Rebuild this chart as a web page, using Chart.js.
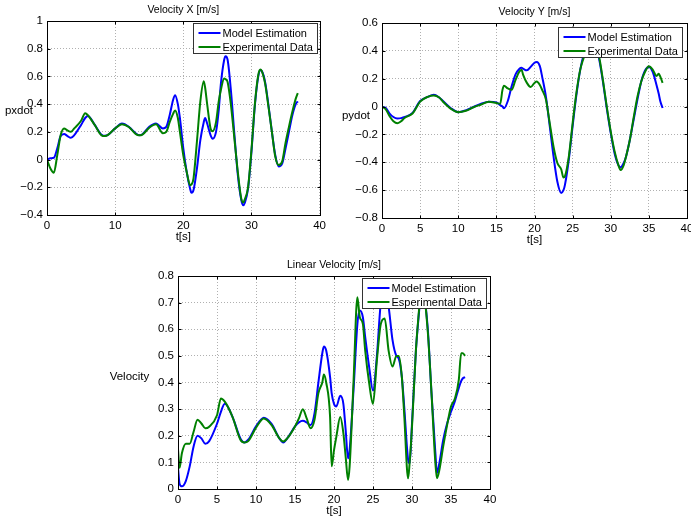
<!DOCTYPE html>
<html>
<head>
<meta charset="utf-8">
<title>Velocity plots</title>
<script src="https://cdn.jsdelivr.net/npm/chart.js@4.4.1/dist/chart.umd.min.js"></script>
<style>
  html, body { margin: 0; padding: 0; background: #fff; overflow: hidden; }
  body { width: 691px; height: 521px; position: relative; }
  canvas { position: absolute; }
</style>
</head>
<body>
<canvas id="vxchart" width="330" height="250" style="left:0px;top:0px"></canvas>
<canvas id="vychart" width="375" height="250" style="left:330px;top:0px"></canvas>
<canvas id="velchart" width="420" height="271" style="left:100px;top:250px"></canvas>
<script>
'use strict';

// ---- Velocity X ----
const vxTime = [
    0, 0.5, 1, 1.5, 2, 2.5, 3, 3.5, 4, 5,
    5.6, 6, 7, 8, 8.5, 9, 10, 11, 12, 13,
    13.5, 14, 15, 16, 17, 17.5, 18, 18.5, 18.8, 19.2,
    19.5, 20, 20.5, 21, 21.2, 21.5, 22, 22.5, 23, 23.2,
    23.5, 24, 24.3, 24.8, 25.2, 25.5, 26, 26.2, 26.5, 27,
    27.5, 28, 28.5, 28.8, 29, 29.5, 30, 30.5, 31, 31.3,
    31.5, 32, 32.5, 33, 33.5, 34, 34.5, 35, 35.5, 36,
    36.5, 36.8
];
const vxModel = [
    0, 0.01, 0.013, 0.08, 0.17, 0.185, 0.17, 0.157, 0.176, 0.25,
    0.30, 0.315, 0.25, 0.18, 0.172, 0.18, 0.225, 0.26, 0.237, 0.19,
    0.175, 0.183, 0.236, 0.26, 0.225, 0.236, 0.32, 0.43, 0.465, 0.40,
    0.30, 0.08, -0.09, -0.21, -0.24, -0.22, -0.065, 0.14, 0.27, 0.30,
    0.26, 0.176, 0.15, 0.2, 0.356, 0.54, 0.72, 0.745, 0.72, 0.49,
    0.18, -0.11, -0.29, -0.33, -0.315, -0.21, 0.056, 0.39, 0.60, 0.645,
    0.64, 0.56, 0.39, 0.2, 0.03, -0.05, -0.03, 0.08, 0.2, 0.32,
    0.40, 0.42
];
const vxExp = [
    0, -0.065, -0.095, 0.03, 0.176, 0.225, 0.21, 0.20, 0.225, 0.28,
    0.335, 0.32, 0.25, 0.175, 0.17, 0.18, 0.225, 0.255, 0.235, 0.185,
    0.175, 0.18, 0.23, 0.255, 0.19, 0.2, 0.27, 0.33, 0.355, 0.30,
    0.20, 0.03, -0.09, -0.185, -0.18, -0.135, 0.13, 0.42, 0.565, 0.52,
    0.40, 0.225, 0.205, 0.27, 0.42, 0.50, 0.585, 0.58, 0.56, 0.39,
    0.15, -0.09, -0.28, -0.31, -0.29, -0.2, 0.07, 0.40, 0.61, 0.65,
    0.64, 0.55, 0.38, 0.2, 0.02, -0.04, -0.015, 0.12, 0.236, 0.345,
    0.44, 0.48
];

// ---- Velocity Y ----
const vyTime = [
    0, 0.5, 1, 1.5, 2, 2.5, 3, 4, 5, 6,
    6.8, 7.5, 8, 9, 10, 11, 12, 13, 14, 15,
    15.5, 15.8, 16, 16.5, 17, 17.5, 18, 18.3, 18.5, 19,
    19.5, 20, 20.3, 20.7, 21, 21.5, 22, 22.5, 23, 23.5,
    23.8, 24, 24.5, 25, 25.5, 26, 26.5, 27, 27.5, 28,
    28.5, 29, 29.5, 30, 30.5, 31, 31.3, 31.7, 32, 32.5,
    33, 33.5, 34, 34.5, 35, 35.5, 36, 36.3, 36.5, 36.8
];
const vyModel = [
    0, -0.01, -0.05, -0.075, -0.085, -0.083, -0.075, -0.045, 0.04, 0.07,
    0.085, 0.065, 0.04, -0.01, -0.04, -0.027, -0.003, 0.02, 0.035, 0.03,
    0.01, 0.0, -0.012, 0.04, 0.145, 0.23, 0.27, 0.278, 0.272, 0.26,
    0.285, 0.315, 0.32, 0.29, 0.215, 0.07, -0.14, -0.36, -0.54, -0.62,
    -0.6, -0.56, -0.38, -0.14, 0.085, 0.265, 0.385, 0.47, 0.5, 0.46,
    0.335, 0.17, -0.02, -0.19, -0.335, -0.42, -0.435, -0.405, -0.36, -0.24,
    -0.095, 0.05, 0.18, 0.26, 0.285, 0.25, 0.155, 0.09, 0.038, -0.01
];
const vyExp = [
    0, -0.02, -0.07, -0.105, -0.12, -0.105, -0.08, -0.05, 0.035, 0.07,
    0.08, 0.065, 0.035, -0.015, -0.04, -0.03, -0.005, 0.015, 0.035, 0.025,
    0.02, 0.12, 0.15, 0.13, 0.12, 0.19, 0.25, 0.265, 0.23, 0.17,
    0.14, 0.17, 0.18, 0.155, 0.12, 0.05, -0.12, -0.29, -0.405, -0.45,
    -0.51, -0.50, -0.36, -0.12, 0.1, 0.265, 0.36, 0.46, 0.49, 0.45,
    0.35, 0.18, -0.01, -0.18, -0.32, -0.42, -0.455, -0.42, -0.36, -0.24,
    -0.08, 0.07, 0.18, 0.25, 0.29, 0.265, 0.22, 0.235, 0.215, 0.17
];

// ---- Linear velocity ----
const velTime = [
    0, 0.2, 0.5, 1, 1.5, 2, 2.5, 3, 3.5, 4,
    5, 5.5, 6, 7, 8, 8.5, 9, 10, 11, 12,
    13, 13.5, 14, 15, 15.5, 16, 16.5, 17, 17.5, 18,
    18.5, 18.7, 19, 19.5, 19.7, 20, 20.3, 20.8, 21.2, 21.5,
    21.8, 22, 22.5, 23, 23.3, 23.7, 24, 24.5, 25, 25.5,
    26, 26.5, 27, 27.5, 28, 28.3, 28.7, 29, 29.5, 29.7,
    30, 30.5, 31, 31.2, 32, 32.5, 33, 33.2, 33.5, 34,
    34.5, 35, 35.5, 36, 36.3, 36.5, 36.8
];
const velModel = [
    0.08, 0.02, 0.01, 0.03, 0.085, 0.16, 0.2, 0.19, 0.17, 0.18,
    0.245, 0.29, 0.32, 0.27, 0.19, 0.175, 0.185, 0.235, 0.268, 0.245,
    0.19, 0.175, 0.19, 0.235, 0.25, 0.256, 0.25, 0.24, 0.284, 0.40,
    0.51, 0.535, 0.52, 0.42, 0.36, 0.32, 0.31, 0.35, 0.32, 0.22,
    0.115, 0.146, 0.37, 0.62, 0.67, 0.645, 0.57, 0.46, 0.37, 0.5,
    0.70, 0.75, 0.685, 0.56, 0.5, 0.49, 0.42, 0.31, 0.11, 0.096,
    0.246, 0.52, 0.7, 0.78, 0.61, 0.36, 0.134, 0.06, 0.096, 0.184,
    0.246, 0.29, 0.33, 0.38, 0.405, 0.415, 0.42
];
const velExp = [
    0.15, 0.08, 0.134, 0.17, 0.17, 0.215, 0.26, 0.246, 0.228, 0.234,
    0.277, 0.34, 0.328, 0.27, 0.185, 0.175, 0.18, 0.23, 0.265, 0.24,
    0.19, 0.178, 0.19, 0.235, 0.265, 0.3, 0.265, 0.228, 0.26, 0.36,
    0.40, 0.43, 0.40, 0.27, 0.085, 0.146, 0.196, 0.27, 0.21, 0.12,
    0.034, 0.084, 0.40, 0.72, 0.646, 0.62, 0.52, 0.40, 0.32, 0.484,
    0.62, 0.64, 0.52, 0.46, 0.5, 0.5, 0.42, 0.28, 0.04, 0.1,
    0.234, 0.52, 0.71, 0.79, 0.6, 0.36, 0.096, 0.04, 0.07, 0.16,
    0.24, 0.31, 0.34, 0.41, 0.51, 0.51, 0.50
];

const FONT = '"Liberation Sans", Arial, Helvetica, sans-serif';
const BLUE = '#0000ff';
const GREEN = '#008000';

Chart.defaults.font.family = FONT;
Chart.defaults.color = '#000';

function fmtTick(v) {
    let s = String(Number(Number(v).toFixed(2)));
    return s.replace('-', '\u2212');
}

// matlab-ish decorations: box, inner ticks, titles, legend
const matlabDecor = {
    id: 'matlabDecor',
    afterDraw(chart, args, opts) {
        const ctx = chart.ctx;
        const a = chart.chartArea;
        const xs = chart.scales.x, ys = chart.scales.y;
        const L = Math.round(a.left) + 0.5, R = Math.round(a.right) + 0.5;
        const T = Math.round(a.top) + 0.5, B = Math.round(a.bottom) + 0.5;
        ctx.save();

        ctx.strokeStyle = '#000';
        ctx.lineWidth = 1;
        ctx.beginPath();
        xs.ticks.forEach(t => {
            const px = Math.round(xs.getPixelForValue(t.value)) + 0.5;
            ctx.moveTo(px, B); ctx.lineTo(px, B - 3);
            ctx.moveTo(px, T); ctx.lineTo(px, T + 3);
        });
        ys.ticks.forEach(t => {
            const py = Math.round(ys.getPixelForValue(t.value)) + 0.5;
            ctx.moveTo(L, py); ctx.lineTo(L + 3, py);
            ctx.moveTo(R, py); ctx.lineTo(R - 3, py);
        });
        ctx.stroke();
        ctx.strokeRect(L, T, R - L, B - T);

        // texts
        ctx.fillStyle = '#000';
        ctx.textAlign = 'center';
        ctx.textBaseline = 'middle';
        ctx.font = '10.5px ' + FONT;
        ctx.fillText(opts.title, (a.left + a.right) / 2, a.top - 11);
        ctx.font = '11.5px ' + FONT;
        ctx.fillText('t[s]', (a.left + a.right) / 2, a.bottom + 22);
        ctx.fillText(opts.yLabel, opts.yLabelX, opts.yLabelY);

        // legend
        ctx.font = '11px ' + FONT;
        const ds = chart.data.datasets;
        let tw = 0;
        ds.forEach(d => { tw = Math.max(tw, ctx.measureText(d.label).width); });
        const bw = Math.round(29 + tw + 5), bh = 30;
        const bx = Math.round(a.right - opts.legRight - bw) + 0.5;
        const by = Math.round(a.top + opts.legTop) + 0.5;
        ctx.fillStyle = '#fff';
        ctx.fillRect(bx, by, bw, bh);
        ctx.strokeStyle = '#333';
        ctx.strokeRect(bx, by, bw, bh);
        ctx.textAlign = 'left';
        ds.forEach((d, i) => {
            const yy = by + 9.5 + i * 14;
            ctx.strokeStyle = d.borderColor;
            ctx.lineWidth = 2;
            ctx.beginPath();
            ctx.moveTo(bx + 5, yy); ctx.lineTo(bx + 27, yy);
            ctx.stroke();
            ctx.fillStyle = '#000';
            ctx.fillText(d.label, bx + 29, yy + 0.5);
        });
        ctx.restore();
    }
};

function makePlot(elementID, p) {
    const toPts = (ts, vs) => ts.map((t, i) => ({x: t, y: vs[i]}));
    const config = {
        type: 'line',
        data: {
            datasets: [{
                label: 'Model Estimation',
                data: toPts(p.time, p.model),
                borderColor: BLUE,
                borderWidth: 2,
                pointRadius: 0,
                cubicInterpolationMode: 'monotone',
                order: 1
            }, {
                label: p.expLabel,
                data: toPts(p.time, p.exp),
                borderColor: GREEN,
                borderWidth: 2,
                pointRadius: 0,
                cubicInterpolationMode: 'monotone',
                order: 0
            }]
        },
        options: {
            responsive: false,
            animation: false,
            events: [],
            layout: { padding: { left: 0, right: p.padRight, top: p.padTop, bottom: 0 } },
            scales: {
                x: {
                    type: 'linear',
                    min: 0, max: 40,
                    afterFit: s => { s.height = p.xHeight; },
                    ticks: { stepSize: p.xStep, font: { size: 11.5 }, color: '#000', padding: 4, maxRotation: 0, autoSkip: false },
                    grid: { color: '#b0b0b0', drawTicks: false },
                    border: { display: true, color: '#000', dash: [1, 2] }
                },
                y: {
                    min: p.yMin, max: p.yMax,
                    afterFit: s => { s.width = p.yWidth; },
                    ticks: { stepSize: p.yStep, font: { size: 11.5 }, color: '#000', padding: 4, autoSkip: false, callback: fmtTick },
                    grid: { color: '#b0b0b0', drawTicks: false },
                    border: { display: true, color: '#000', dash: [1, 2] }
                }
            },
            plugins: {
                legend: { display: false },
                tooltip: { enabled: false },
                matlabDecor: {
                    title: p.title, yLabel: p.yLabel, yLabelX: p.yLabelX, yLabelY: p.yLabelY,
                    legRight: p.legRight, legTop: p.legTop
                }
            }
        },
        plugins: [matlabDecor]
    };
    return new Chart(document.getElementById(elementID), config);
}

makePlot('vxchart', {
    time: vxTime, model: vxModel, exp: vxExp, expLabel: 'Experimental Data',
    title: 'Velocity X [m/s]', yLabel: 'pxdot', yLabelX: 19, yLabelY: 111,
    yMin: -0.4, yMax: 1, yStep: 0.2, xStep: 10,
    yWidth: 47, xHeight: 35, padTop: 21, padRight: 10, legRight: 3, legTop: 2
});

makePlot('vychart', {
    time: vyTime, model: vyModel, exp: vyExp, expLabel: 'Experimental Data',
    title: 'Velocity Y [m/s]', yLabel: 'pydot', yLabelX: 26, yLabelY: 116,
    yMin: -0.8, yMax: 0.6, yStep: 0.2, xStep: 5,
    yWidth: 52, xHeight: 32, padTop: 23, padRight: 18, legRight: 5, legTop: 4
});

makePlot('velchart', {
    time: velTime, model: velModel, exp: velExp, expLabel: 'Esperimental Data',
    title: 'Linear Velocity [m/s]', yLabel: 'Velocity', yLabelX: 29.5, yLabelY: 127,
    yMin: 0, yMax: 0.8, yStep: 0.1, xStep: 5,
    yWidth: 78, xHeight: 32, padTop: 26, padRight: 30, legRight: 4, legTop: 2
});
</script>
</body>
</html>
